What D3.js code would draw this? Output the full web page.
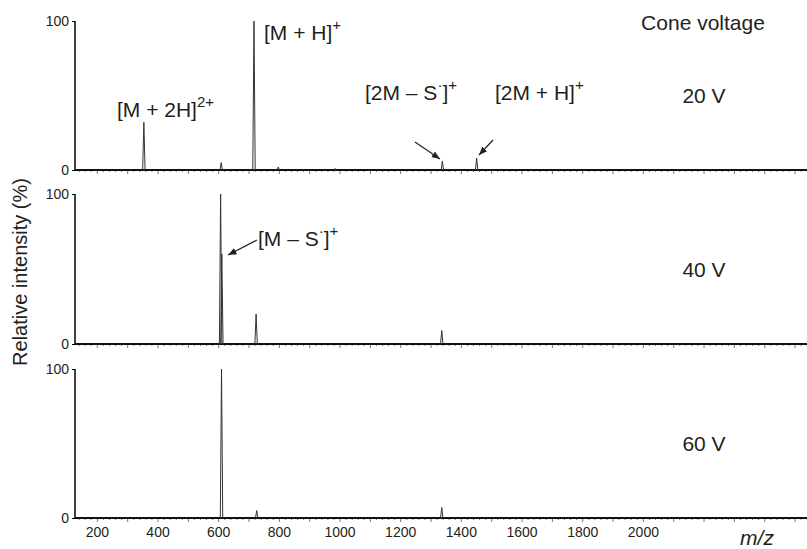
<!DOCTYPE html>
<html lang="en">
	<head>
		<meta charset="utf-8">
		<title>Cone voltage mass spectra</title>
		<script type="text/javascript" src="https://d3js.org/d3.v7.min.js"></script>
		<style type="text/css">
			body{
				margin: 0;
				background: #fff;
			}
			text{
				font-family: "Liberation Sans", Arial, Helvetica, sans-serif;
				fill: #231f20;
			}
		</style>
	</head>
	<body>
		<script type="text/javascript">

			//Width and height
			var w = 807;
			var h = 549;

			//Data: peak positions (m/z) and relative intensities (%) for each cone voltage
			var voltages = ["20 V", "40 V", "60 V"];
			var mz20 = [355, 610, 718, 798, 985, 1339, 1452];
			var int20 = [32, 5, 100, 2, 1, 6, 8];
			var mz40 = [608, 612, 725, 1337];
			var int40 = [100, 60, 20, 9];
			var mz60 = [611, 727, 1337];
			var int60 = [100, 5, 7];
			var xTickLabels = [200, 400, 600, 800, 1000, 1200, 1400, 1600, 1800, 2000];
			var yTickLabels = [0, 100];

			var spectra = [
				{ label: voltages[0], mz: mz20, inten: int20, top: 21, bottom: 170 },
				{ label: voltages[1], mz: mz40, inten: int40, top: 194, bottom: 344 },
				{ label: voltages[2], mz: mz60, inten: int60, top: 369, bottom: 518 }
			];

			var axisLeft = 75;
			var peakHalfWidth = 4; // in m/z units

			//Create scale functions
			var xScale = d3.scaleLinear()
						   .domain([128, 2541])
						   .range([axisLeft, w]);

			//Create SVG element
			var svg = d3.select("body")
						.append("svg")
						.attr("width", w)
						.attr("height", h);

			var minorTicks = d3.range(140, 2541, 20);

			spectra.forEach(function(s, i) {
				var yScale = d3.scaleLinear()
							   .domain([0, 100])
							   .range([s.bottom, s.top]);

				var g = svg.append("g");

				//x axis with minor and major ticks
				var xAxis = d3.axisBottom(xScale)
							  .tickValues(minorTicks)
							  .tickSize(0)
							  .tickFormat("");
				var xg = g.append("g")
						  .attr("transform", "translate(0," + s.bottom + ")")
						  .call(xAxis);
				xg.select(".domain").remove();
				xg.selectAll(".tick line")
				  .attr("y2", function(d) { return d % 100 === 0 ? 4 : 2; })
				  .attr("stroke", "#555")
				  .attr("stroke-width", 0.8);

				if (i === 2) {
					var xLab = d3.axisBottom(xScale)
								 .tickValues(xTickLabels)
								 .tickFormat(d3.format("d"))
								 .tickSize(0)
								 .tickPadding(9);
					var xl = g.append("g")
							  .attr("transform", "translate(0," + s.bottom + ")")
							  .call(xLab);
					xl.select(".domain").remove();
					xl.selectAll("text")
					  .attr("font-size", "14px")
					  .attr("font-family", "\"Liberation Sans\", Arial, sans-serif")
					  .attr("fill", "#231f20");
				}

				//baseline
				g.append("line")
				 .attr("x1", xScale(128))
				 .attr("x2", w)
				 .attr("y1", s.bottom)
				 .attr("y2", s.bottom)
				 .attr("stroke", "#111")
				 .attr("stroke-width", 1.8);

				//y axis
				var yAxis = d3.axisLeft(yScale)
							  .tickValues(yTickLabels)
							  .tickSize(3)
							  .tickPadding(3);
				var yg = g.append("g")
						  .attr("transform", "translate(" + axisLeft + ",0)")
						  .call(yAxis);
				yg.select(".domain")
				  .attr("stroke", "#111")
				  .attr("stroke-width", 1.6)
				  .attr("d", "M0," + s.top + "V" + s.bottom);
				yg.selectAll("text")
				  .attr("font-size", "14px")
				  .attr("font-family", "\"Liberation Sans\", Arial, sans-serif")
				  .attr("fill", "#231f20");

				//peaks
				var line = d3.line()
							 .x(function(p) { return xScale(p[0]); })
							 .y(function(p) { return yScale(p[1]); });

				g.selectAll("path.peak")
				 .data(d3.zip(s.mz, s.inten))
				 .enter()
				 .append("path")
				 .attr("class", "peak")
				 .attr("d", function(d) {
				 	return line([[d[0] - peakHalfWidth, 0], [d[0], d[1]], [d[0] + peakHalfWidth, 0]]);
				 })
				 .attr("fill", "none")
				 .attr("stroke", "#333")
				 .attr("stroke-width", 1);

				//voltage label
				svg.append("text")
				   .attr("x", 704)
				   .attr("y", s.bottom - 67)
				   .attr("text-anchor", "middle")
				   .attr("font-size", "21px")
				   .text(s.label);
			});

			//Label with superscripts: parts = [[text, isSup], ...]
			function richLabel(x, y, parts) {
				var t = svg.append("text")
						   .attr("x", x)
						   .attr("y", y)
						   .attr("font-size", "21px");
				parts.forEach(function(p, i) {
					var prev = i > 0 ? parts[i - 1][1] : false;
					var span = t.append("tspan").text(p[0]);
					if (p[1]) span.attr("font-size", "15px");
					if (p[1] && !prev) span.attr("dy", -10);
					if (!p[1] && prev) span.attr("dy", 10);
				});
				return t;
			}

			richLabel(117, 117, [["[M + 2H]", false], ["2+", true]]);
			richLabel(264, 40, [["[M + H]", false], ["+", true]]);
			richLabel(365, 100, [["[2M \u2013 S", false], ["\u00b7", true], ["]", false], ["+", true]]);
			richLabel(495, 100, [["[2M + H]", false], ["+", true]]);
			richLabel(258, 246, [["[M \u2013 S", false], ["\u00b7", true], ["]", false], ["+", true]]);

			//Arrows
			svg.append("defs")
			   .append("marker")
			   .attr("id", "arrow")
			   .attr("viewBox", "0 0 10 10")
			   .attr("refX", 10)
			   .attr("refY", 5)
			   .attr("markerWidth", 7)
			   .attr("markerHeight", 7)
			   .attr("orient", "auto")
			   .append("path")
			   .attr("d", "M0,1L10,5L0,9Z")
			   .attr("fill", "#231f20");

			var arrows = [[415, 142, 440, 159], [493, 140, 479, 155], [257, 240, 228, 255]];
			svg.selectAll("line.arrow")
			   .data(arrows)
			   .enter()
			   .append("line")
			   .attr("class", "arrow")
			   .attr("x1", function(d) { return d[0]; })
			   .attr("y1", function(d) { return d[1]; })
			   .attr("x2", function(d) { return d[2]; })
			   .attr("y2", function(d) { return d[3]; })
			   .attr("stroke", "#231f20")
			   .attr("stroke-width", 1.2)
			   .attr("marker-end", "url(#arrow)");

			//Titles
			svg.append("text")
			   .attr("x", 703)
			   .attr("y", 30)
			   .attr("text-anchor", "middle")
			   .attr("font-size", "21px")
			   .text("Cone voltage");

			svg.append("text")
			   .attr("transform", "translate(27,272) rotate(-90)")
			   .attr("text-anchor", "middle")
			   .attr("font-size", "20px")
			   .text("Relative intensity (%)");

			svg.append("text")
			   .attr("x", 757)
			   .attr("y", 545)
			   .attr("text-anchor", "middle")
			   .attr("font-size", "21px")
			   .attr("font-style", "italic")
			   .text("m/z");

		</script>
	</body>
</html>
